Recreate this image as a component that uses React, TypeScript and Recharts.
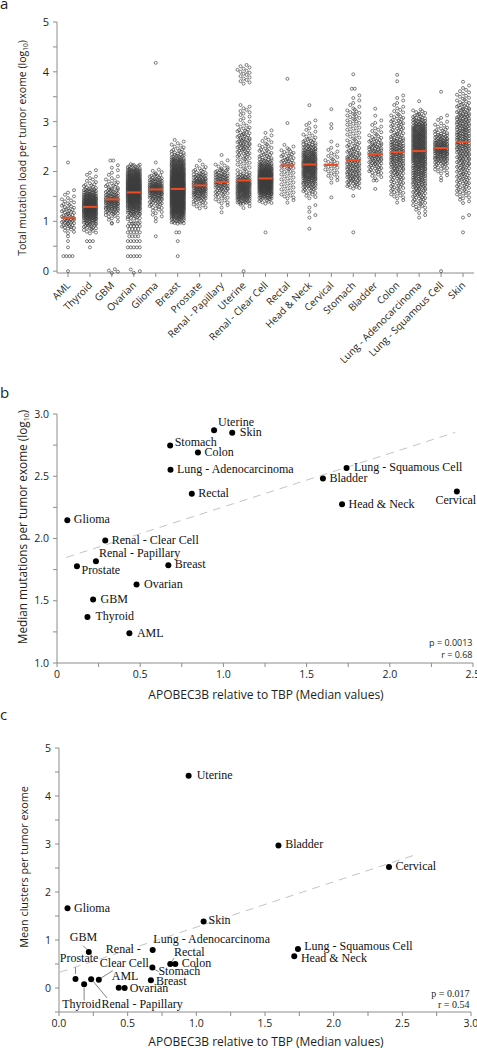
import React from 'react'
import { ScatterChart, Scatter, XAxis, YAxis, ReferenceLine } from 'recharts'

/* ── fonts & colours ───────────────────────────── */
const SANS = '"Open Sans", "Noto Sans", sans-serif'
const SERIF = '"Liberation Serif", "DejaVu Serif", serif'
const AXIS = '#8c8c8c'
const INK = '#231f20'
const MEDIAN_RED = '#ee4d24'
const FIT_GREY = '#c4c4c4'

/* ── panel a: categories, medians, dot bins ([log10 value, number of tumours]) ── */
const CATEGORIES = [
  'AML', 'Thyroid', 'GBM', 'Ovarian', 'Glioma', 'Breast', 'Prostate', 'Renal - Papillary',
  'Uterine', 'Renal - Clear Cell', 'Rectal', 'Head & Neck', 'Cervical', 'Stomach', 'Bladder',
  'Colon', 'Lung - Adenocarcinoma', 'Lung - Squamous Cell', 'Skin',
]
const MEDIANS = [1.07, 1.29, 1.44, 1.58, 1.64, 1.65, 1.72, 1.79, 1.82, 1.86, 2.12, 2.14, 2.13, 2.23, 2.35, 2.39, 2.41, 2.47, 2.59]

// bins on a 0.1 grid hold spread-out values; off-grid values (log10 of small counts) are exact rows
type Bin = [number, number]
const AML: Bin[] = [[0, 1], [0.301, 4], [0.477, 1], [0.602, 1], [0.7, 1], [0.8, 4], [0.9, 10], [1.0, 13], [1.1, 10], [1.2, 9], [1.3, 7], [1.4, 5], [1.5, 3], [1.6, 2], [2.18, 1]]
const THYROID: Bin[] = [[0.477, 1], [0.602, 3], [0.8, 6], [0.9, 12], [1.0, 20], [1.1, 30], [1.2, 40], [1.3, 45], [1.4, 38], [1.5, 28], [1.6, 18], [1.7, 8], [1.8, 4], [1.9, 3], [2.0, 2]]
const GBM: Bin[] = [[0, 4], [0.954, 1], [1.0, 3], [1.1, 6], [1.2, 14], [1.3, 20], [1.4, 24], [1.5, 18], [1.6, 12], [1.7, 8], [1.8, 5], [1.9, 3], [2.0, 2], [2.1, 2], [2.22, 2]]
const OVARIAN: Bin[] = [[0, 3], [0.301, 5], [0.477, 5], [0.602, 5], [0.699, 4], [0.778, 5], [0.845, 4], [0.903, 5], [0.954, 4], [1.0, 5], [1.1, 12], [1.2, 20], [1.3, 30], [1.4, 38], [1.5, 45], [1.6, 50], [1.7, 50], [1.8, 45], [1.9, 35], [2.0, 25], [2.1, 12]]
const GLIOMA: Bin[] = [[0.7, 1], [1.0, 1], [1.1, 3], [1.2, 4], [1.3, 8], [1.4, 13], [1.5, 20], [1.6, 28], [1.7, 28], [1.8, 18], [1.9, 10], [2.0, 4], [2.18, 1], [4.18, 1]]
const BREAST: Bin[] = [[0.301, 1], [0.602, 1], [0.778, 2], [1.0, 15], [1.1, 26], [1.2, 40], [1.3, 50], [1.4, 55], [1.5, 60], [1.6, 62], [1.7, 60], [1.8, 55], [1.9, 48], [2.0, 40], [2.1, 32], [2.2, 25], [2.3, 14], [2.4, 8], [2.5, 5], [2.6, 3]]
const PROSTATE: Bin[] = [[1.3, 5], [1.4, 9], [1.5, 16], [1.6, 22], [1.7, 24], [1.8, 22], [1.9, 15], [2.0, 8], [2.1, 4], [2.22, 1]]
const RENAL_PAP: Bin[] = [[1.18, 1], [1.3, 2], [1.4, 5], [1.5, 7], [1.6, 11], [1.7, 16], [1.8, 18], [1.9, 16], [2.0, 11], [2.1, 5], [2.2, 2], [2.33, 1]]
const UTERINE: Bin[] = [[0, 1], [1.3, 3], [1.4, 16], [1.5, 24], [1.6, 28], [1.7, 30], [1.8, 28], [1.9, 14], [2.0, 6], [2.1, 5], [2.2, 6], [2.3, 8], [2.4, 10], [2.5, 12], [2.6, 12], [2.7, 10], [2.8, 8], [2.9, 5], [3.0, 3], [3.1, 3], [3.2, 4], [3.3, 3], [3.8, 4], [3.9, 4], [4.0, 5], [4.1, 4]]
const RENAL_CC: Bin[] = [[0.778, 1], [1.4, 8], [1.5, 20], [1.6, 35], [1.7, 45], [1.8, 50], [1.9, 48], [2.0, 38], [2.1, 25], [2.2, 14], [2.3, 9], [2.4, 7], [2.5, 6], [2.6, 4], [2.7, 2], [2.8, 2]]
const RECTAL: Bin[] = [[1.4, 2], [1.5, 5], [1.6, 5], [1.7, 5], [1.8, 5], [1.9, 5], [2.0, 6], [2.1, 9], [2.2, 10], [2.3, 8], [2.4, 6], [2.5, 3], [2.97, 1], [3.86, 1]]
const HEAD_NECK: Bin[] = [[0.85, 1], [1.1, 2], [1.19, 1], [1.3, 2], [1.5, 4], [1.6, 8], [1.7, 14], [1.8, 20], [1.9, 26], [2.0, 30], [2.1, 32], [2.2, 30], [2.3, 26], [2.4, 20], [2.5, 14], [2.6, 9], [2.7, 5], [2.8, 3], [2.9, 3], [3.0, 2], [3.33, 1]]
const CERVICAL: Bin[] = [[1.48, 1], [1.8, 2], [1.9, 4], [2.0, 5], [2.1, 6], [2.2, 6], [2.3, 4], [2.4, 3], [2.5, 2], [2.6, 1], [2.87, 1], [2.95, 1], [3.25, 1]]
const STOMACH: Bin[] = [[0.778, 1], [1.51, 1], [1.7, 8], [1.8, 12], [1.9, 14], [2.0, 14], [2.1, 14], [2.2, 14], [2.3, 12], [2.4, 10], [2.5, 8], [2.6, 6], [2.7, 5], [2.8, 5], [2.9, 5], [3.0, 6], [3.1, 6], [3.2, 6], [3.3, 3], [3.4, 2], [3.5, 2], [3.66, 2], [3.95, 1]]
const BLADDER: Bin[] = [[1.65, 1], [1.82, 2], [1.9, 4], [2.0, 8], [2.1, 10], [2.2, 13], [2.3, 15], [2.4, 14], [2.5, 12], [2.6, 9], [2.7, 6], [2.8, 4], [2.9, 3], [3.0, 2], [3.12, 1], [3.26, 1]]
const COLON: Bin[] = [[1.4, 2], [1.5, 5], [1.6, 7], [1.7, 8], [1.8, 8], [1.9, 10], [2.0, 12], [2.1, 14], [2.2, 16], [2.3, 18], [2.4, 18], [2.5, 16], [2.6, 14], [2.7, 10], [2.8, 8], [2.9, 8], [3.0, 8], [3.1, 6], [3.2, 4], [3.3, 3], [3.4, 2], [3.5, 2], [3.81, 1], [3.94, 1]]
const LUNG_AD: Bin[] = [[1.1, 2], [1.2, 3], [1.3, 6], [1.4, 8], [1.5, 10], [1.6, 12], [1.7, 14], [1.8, 16], [1.9, 18], [2.0, 20], [2.1, 22], [2.2, 24], [2.3, 28], [2.4, 28], [2.5, 28], [2.6, 28], [2.7, 28], [2.8, 26], [2.9, 22], [3.0, 16], [3.1, 10], [3.2, 6], [3.41, 1]]
const LUNG_SQ: Bin[] = [[0, 1], [1.82, 1], [1.9, 2], [2.0, 5], [2.1, 8], [2.2, 14], [2.3, 20], [2.4, 24], [2.5, 24], [2.6, 20], [2.7, 14], [2.8, 8], [2.9, 5], [3.0, 3], [3.1, 2], [3.6, 1]]
const SKIN: Bin[] = [[0.778, 1], [1.1, 2], [1.4, 3], [1.5, 5], [1.6, 7], [1.7, 8], [1.8, 9], [1.9, 10], [2.0, 10], [2.1, 11], [2.2, 12], [2.3, 13], [2.4, 14], [2.5, 16], [2.6, 16], [2.7, 16], [2.8, 15], [2.9, 14], [3.0, 14], [3.1, 13], [3.2, 11], [3.3, 9], [3.4, 6], [3.5, 5], [3.6, 4], [3.7, 2], [3.8, 1]]

const STRIPS: Bin[][] = [AML, THYROID, GBM, OVARIAN, GLIOMA, BREAST, PROSTATE, RENAL_PAP, UTERINE, RENAL_CC, RECTAL, HEAD_NECK, CERVICAL, STOMACH, BLADDER, COLON, LUNG_AD, LUNG_SQ, SKIN]

/* ── panels b & c: per cancer (same order as CATEGORIES) ── */
const APOBEC3B = [0.435, 0.183, 0.217, 0.478, 0.062, 0.669, 0.12, 0.234, 0.944, 0.29, 0.81, 1.713, 2.403, 0.68, 1.598, 0.847, 0.682, 1.74, 1.053]
const MEDIAN_MUTATIONS = [1.238, 1.369, 1.511, 1.631, 2.147, 1.786, 1.778, 1.818, 2.87, 1.984, 2.36, 2.275, 2.377, 2.746, 2.481, 2.69, 2.553, 2.567, 2.85]
const MEAN_CLUSTERS = [0.007, 0.077, 0.752, 0.0, 1.66, 0.16, 0.188, 0.18, 4.42, 0.174, 0.5, 0.66, 2.52, 0.425, 2.97, 0.5, 0.794, 0.815, 1.386]

const FIT_B = [{ x: 0.056, y: 1.848 }, { x: 2.394, y: 2.853 }]
const FIT_C = [{ x: 0.005, y: 0.327 }, { x: 2.6, y: 2.78 }]

/* ── swarm layout of the strips ──
   exact rows stay flat; 0.1-bins are spread over their height, cycling through 5 horizontal slots */
const DOT_STEP = 0.137 // ~3px in category units
const SLOTS = [0, 2, -1, 1, -2, 0.5, -1.5, 1.5, -0.5]
function stripPoints() {
  const pts: { x: number; y: number }[] = []
  STRIPS.forEach((bins, i) => {
    bins.forEach(([v, n]) => {
      const onGrid = Math.abs(v * 10 - Math.round(v * 10)) < 1e-6 && n > 1
      for (let j = 0; j < n; j++) {
        if (onGrid) {
          pts.push({ x: i + SLOTS[j % SLOTS.length] * DOT_STEP, y: v + ((j + 0.5) / n - 0.5) * 0.1 })
        } else {
          pts.push({ x: i + (j - (n - 1) / 2) * DOT_STEP, y: v })
        }
      }
    })
  })
  return pts
}
const DOTS = stripPoints()
const MEDIAN_PTS = MEDIANS.map((y, x) => ({ x, y }))

/* ── label placement for b & c (px offsets from the dot) ── */
type Place = { parts?: [string, number, number][]; dx?: number; dy?: number; anchor?: string; leader?: number[] }
const B_PLACE: Record<string, Place> = {
  Uterine: { dx: 4, dy: -4 },
  Skin: { dx: 7.5, dy: 3 },
  Stomach: { dx: 4.5, dy: 0 },
  'Renal - Papillary': { dx: 3, dy: -4.5 },
  Prostate: { dx: 4.5, dy: 7.5 },
  Cervical: { dx: -1, dy: 12, anchor: 'middle' },
  Ovarian: { dx: 7.5 },
  GBM: { dx: 7.5 },
  Thyroid: { dx: 8 },
  AML: { dx: 7.5 },
  'Lung - Squamous Cell': { dx: 7.5 },
}
const C_PLACE: Record<string, Place> = {
  Uterine: { dx: 8, dy: 2.7 },
  Skin: { dx: 5, dy: 2.7 },
  Bladder: { dx: 6.7, dy: 2.7 },
  GBM: { dx: -19, dy: -10.7, leader: [-5.7, -6.3, -1.5, -2] },
  'Lung - Adenocarcinoma': { dx: 0.7, dy: -6.7 },
  'Renal - Clear Cell': { parts: [['Renal -', 7, -26.7], ['Clear Cell', 1, -13]], leader: [14, -9, 2, -1.5] },
  Rectal: { dx: 3.7, dy: -8.3, leader: [4, -6, 1, -2] },
  Stomach: { dx: 6, dy: 7.7, leader: [1.3, 1.3, 6.3, 4] },
  Breast: { dx: 5, dy: 4.7 },
  Prostate: { dx: -15.7, dy: -17.3, leader: [0, -11.7, 0, -5] },
  Thyroid: { dx: -22, dy: 24, leader: [0, 3.7, 0, 16.3] },
  'Renal - Papillary': { dx: 10.3, dy: 29, leader: [2, 2, 16, 18.7] },
  AML: { dx: -7, dy: -7.7 },
  Ovarian: { dx: 5, dy: 4.3 },
  'Lung - Squamous Cell': { dx: 6.3, dy: 0.7 },
  'Head & Neck': { dx: 6.7, dy: 6 },
}

const B_DATA = CATEGORIES.map((name, i) => ({ name, x: APOBEC3B[i], y: MEDIAN_MUTATIONS[i] }))
const C_DATA = CATEGORIES.map((name, i) => ({ name, x: APOBEC3B[i], y: MEAN_CLUSTERS[i] }))

function labelledDot(places: Record<string, Place>) {
  return (props: any) => {
    const { cx, cy, payload } = props
    const p = places[payload.name] || {}
    const parts = p.parts || [[payload.name, p.dx ?? 6.5, p.dy ?? 3.3]]
    return (
      <g>
        {p.leader && (
          <line x1={cx + p.leader[0]} y1={cy + p.leader[1]} x2={cx + p.leader[2]} y2={cy + p.leader[3]} stroke="#333" strokeWidth={0.6} />
        )}
        <circle cx={cx} cy={cy} r={3} fill="#000" />
        {parts.map(([t, dx, dy], k) => (
          <text key={k} x={cx + dx} y={cy + dy} textAnchor={(p.anchor as any) || 'start'} fontFamily={SERIF} fontSize={12} fill="#111">{t}</text>
        ))}
      </g>
    )
  }
}

/* ── ticks ───────────────────────────── */
const TICK = { fill: INK, fontSize: 10.5, fontFamily: SANS }
function CategoryTick({ x, y, payload }: any) {
  const ax = x + 3
  const ay = y + 7
  return (
    <text x={ax} y={ay} transform={`rotate(-45 ${ax} ${ay})`} textAnchor="end" fontFamily={SANS} fontSize={10} fill={INK}>
      {CATEGORIES[payload.value]}
    </text>
  )
}
const range = (a: number, b: number, s: number) => Array.from({ length: Math.round((b - a) / s) + 1 }, (_, i) => +(a + i * s).toFixed(3))
const onlyMajor = (step: number, fmt: (v: number) => string) => (v: number) =>
  Math.abs(v / step - Math.round(v / step)) < 1e-6 ? fmt(v) : ''

const StripDot = (p: any) => <circle cx={p.cx} cy={p.cy} r={1.5} fill="none" stroke="#3c3c3c" strokeWidth={0.65} />
const MedianBar = (p: any) => <line x1={p.cx - 7} x2={p.cx + 7} y1={p.cy} y2={p.cy} stroke={MEDIAN_RED} strokeWidth={2} />

export default function App() {
  return (
    <div style={{ position: 'absolute', left: 0, top: 0, width: 477, height: 1050, background: '#fff', overflow: 'hidden' }}>
      {/* a */}
      <div style={{ position: 'absolute', left: 0, top: 0 }}>
        <ScatterChart width={477} height={378} margin={{ top: 22, right: 3, bottom: 0, left: 0 }}>
          <XAxis type="number" dataKey="x" domain={[-0.5, 18.5]} ticks={range(0, 18, 1)} interval={0}
            height={105} stroke={AXIS} tickSize={4} tick={<CategoryTick />} />
          <YAxis type="number" dataKey="y" domain={[0, 5]} ticks={range(0, 5, 0.5)} interval={0}
            width={57} stroke={AXIS} tickSize={4} tickMargin={4} tick={{ ...TICK, fontSize: 11 }}
            tickFormatter={onlyMajor(1, (v) => String(v))} />
          <Scatter data={DOTS} shape={StripDot} isAnimationActive={false} />
          <Scatter data={MEDIAN_PTS} shape={MedianBar} isAnimationActive={false} />
        </ScatterChart>
      </div>

      {/* b */}
      <div style={{ position: 'absolute', left: 0, top: 380 }}>
        <ScatterChart width={477} height={330} margin={{ top: 34, right: 4, bottom: 0, left: 0 }}>
          <XAxis type="number" dataKey="x" domain={[0, 2.5]} ticks={range(0, 2.5, 0.25)} interval={0}
            height={47} stroke={AXIS} tickSize={4} tickMargin={4} tick={TICK}
            tickFormatter={onlyMajor(0.5, (v) => (v === 0 ? '0' : v.toFixed(1)))} />
          <YAxis type="number" dataKey="y" domain={[1, 3]} ticks={range(1, 3, 0.25)} interval={0}
            width={57} stroke={AXIS} tickSize={4} tickMargin={4} tick={TICK}
            tickFormatter={onlyMajor(0.5, (v) => v.toFixed(1))} />
          <ReferenceLine segment={FIT_B} stroke={FIT_GREY} strokeDasharray="8 6" strokeWidth={1} />
          <Scatter data={B_DATA} shape={labelledDot(B_PLACE)} isAnimationActive={false} />
        </ScatterChart>
      </div>

      {/* c */}
      <div style={{ position: 'absolute', left: 0, top: 710 }}>
        <ScatterChart width={477} height={340} margin={{ top: 38, right: 6, bottom: 0, left: 0 }}>
          <XAxis type="number" dataKey="x" domain={[0, 3]} ticks={range(0, 3, 0.25)} interval={0}
            height={38} stroke={AXIS} tickSize={4} tickMargin={4} tick={TICK}
            tickFormatter={onlyMajor(0.5, (v) => v.toFixed(1))} />
          <YAxis type="number" dataKey="y" domain={[-0.5, 5]} ticks={range(-0.5, 5, 0.5)} interval={0}
            width={59} stroke={AXIS} tickSize={4} tickMargin={4} tick={TICK}
            tickFormatter={onlyMajor(1, (v) => String(v))} />
          <ReferenceLine segment={FIT_C} stroke={FIT_GREY} strokeDasharray="8 6" strokeWidth={1} />
          <Scatter data={C_DATA} shape={labelledDot(C_PLACE)} isAnimationActive={false} />
        </ScatterChart>
      </div>

      {/* titles, panel letters, stats */}
      <svg width={477} height={1050} style={{ position: 'absolute', left: 0, top: 0, pointerEvents: 'none' }} fontFamily={SANS} fill={INK}>
        <text x={0} y={9} fontSize={15}>a</text>
        <text x={0} y={398} fontSize={15}>b</text>
        <text x={0} y={720} fontSize={15}>c</text>

        <text transform="translate(26 148) rotate(-90)" textAnchor="middle" fontSize={10.5}>
          Total mutation load per tumor exome (log<tspan fontSize={6.5} dy={2}>10</tspan><tspan dy={-2}>)</tspan>
        </text>
        <text transform="translate(26.5 527) rotate(-90)" textAnchor="middle" fontSize={11.8}>
          Median mutations per tumor exome (log<tspan fontSize={7} dy={2}>10</tspan><tspan dy={-2}>)</tspan>
        </text>
        <text transform="translate(27.5 867) rotate(-90)" textAnchor="middle" fontSize={10.8}>
          Mean clusters per tumor exome
        </text>

        <text x={266} y={699} textAnchor="middle" fontSize={12}>APOBEC3B relative to TBP (Median values)</text>
        <text x={266} y={1046} textAnchor="middle" fontSize={12}>APOBEC3B relative to TBP (Median values)</text>

        <text x={472.5} y={645.5} textAnchor="end" fontSize={9}>p = 0.0013</text>
        <text x={472.5} y={657.5} textAnchor="end" fontSize={9}>r = 0.68</text>
        <text x={469.5} y={996.5} textAnchor="end" fontSize={10} fontFamily={SERIF}>p = 0.017</text>
        <text x={469.5} y={1007.5} textAnchor="end" fontSize={10} fontFamily={SERIF}>r = 0.54</text>
      </svg>
    </div>
  )
}
